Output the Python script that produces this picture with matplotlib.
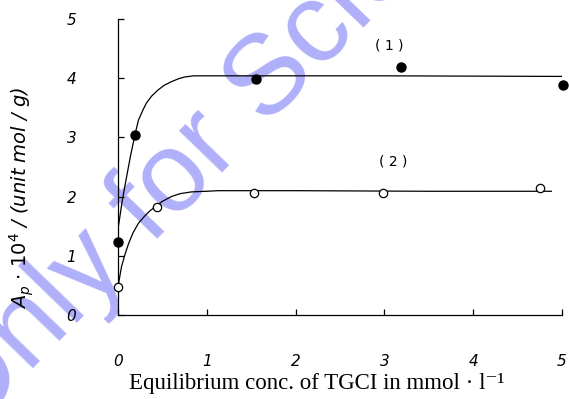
import matplotlib
matplotlib.use("Agg")
import matplotlib.pyplot as plt

plt.rcParams["mathtext.fontset"] = "dejavusans"

# measured points
s1_x = [0.0, 0.19, 1.55, 3.19, 5.01]
s1_y = [1.24, 3.04, 3.98, 4.19, 3.89]
s2_x = [0.0, 0.44, 1.53, 2.98, 4.75]
s2_y = [0.48, 1.82, 2.06, 2.06, 2.14]

# fitted curves
c1_x = [0.0, 0.05, 0.09, 0.14, 0.19, 0.23, 0.28, 0.32, 0.38, 0.45, 0.52, 0.60, 0.68, 0.75, 0.85, 0.98, 1.5, 3.0, 5.02]
c1_y = [1.45, 1.95, 2.28, 2.68, 3.04, 3.29, 3.46, 3.58, 3.70, 3.80, 3.88, 3.94, 3.99, 4.02, 4.04, 4.04, 4.04, 4.04, 4.03]
c2_x = [0.0, 0.04, 0.08, 0.12, 0.17, 0.23, 0.30, 0.36, 0.42, 0.50, 0.60, 0.70, 0.83, 1.0, 1.13, 2.0, 3.5, 4.88]
c2_y = [0.48, 0.82, 1.03, 1.21, 1.39, 1.55, 1.67, 1.76, 1.83, 1.92, 2.00, 2.05, 2.08, 2.09, 2.10, 2.10, 2.09, 2.09]

xticks = [0, 1, 2, 3, 4, 5]
yticks = [0, 1, 2, 3, 4, 5]

fig = plt.figure(figsize=(5.69, 3.99), dpi=100)

# watermark (behind everything)
fig.text(-0.059, -0.097, "Only for Science", fontsize=82, color="#b0b0fa",
         rotation=46, rotation_mode="anchor", ha="left", va="baseline",
         family="Liberation Sans", zorder=-5)

ax = fig.add_axes([118/569, 1-315/399, (562-118)/569, (315-19)/399])
ax.patch.set_alpha(0)

ax.plot(c1_x, c1_y, color="black", lw=0.9, zorder=2)
ax.plot(c2_x, c2_y, color="black", lw=0.9, zorder=2)
ax.plot(s1_x, s1_y, "o", color="black", ms=6.5, zorder=3, clip_on=False)
ax.plot(s2_x, s2_y, "o", mfc="white", mec="black", mew=0.9, ms=6, zorder=3, clip_on=False)

ax.text(3.06, 4.56, "( 1 )", fontsize=10, ha="center", va="center", family="DejaVu Sans")
ax.text(3.1, 2.6, "( 2 )", fontsize=10, ha="center", va="center", family="DejaVu Sans")

ax.set_xlim(0, 5)
ax.set_ylim(0, 5)
ax.set_xticks(xticks)
ax.set_yticks(yticks)
ax.set_xticklabels([str(t) for t in xticks], fontstyle="italic", fontsize=11)
ax.set_yticklabels([str(t) for t in yticks], fontstyle="italic", fontsize=11)
ax.tick_params(direction="in", length=4, width=0.9)
ax.tick_params(axis="x", pad=28)
ax.tick_params(axis="y", pad=30)
for s in ["top", "right"]:
    ax.spines[s].set_visible(False)
for s in ["left", "bottom"]:
    ax.spines[s].set_linewidth(0.9)

fig.text(317/569, 1-383/399, "Equilibrium conc. of TGCI in mmol \u00b7 l\u207b\u00b9",
         family=["Liberation Serif", "DejaVu Serif"], fontsize=16.5, ha="center", va="center")
fig.text(22/569, 1-198/399, r"$\mathit{A_p}$ $\cdot$ $\mathit{10^4}$ / (unit mol / g)",
         fontstyle="italic", fontsize=14, rotation=90, ha="center", va="center",
         family="DejaVu Sans")

fig.savefig("out.png", dpi=100)
